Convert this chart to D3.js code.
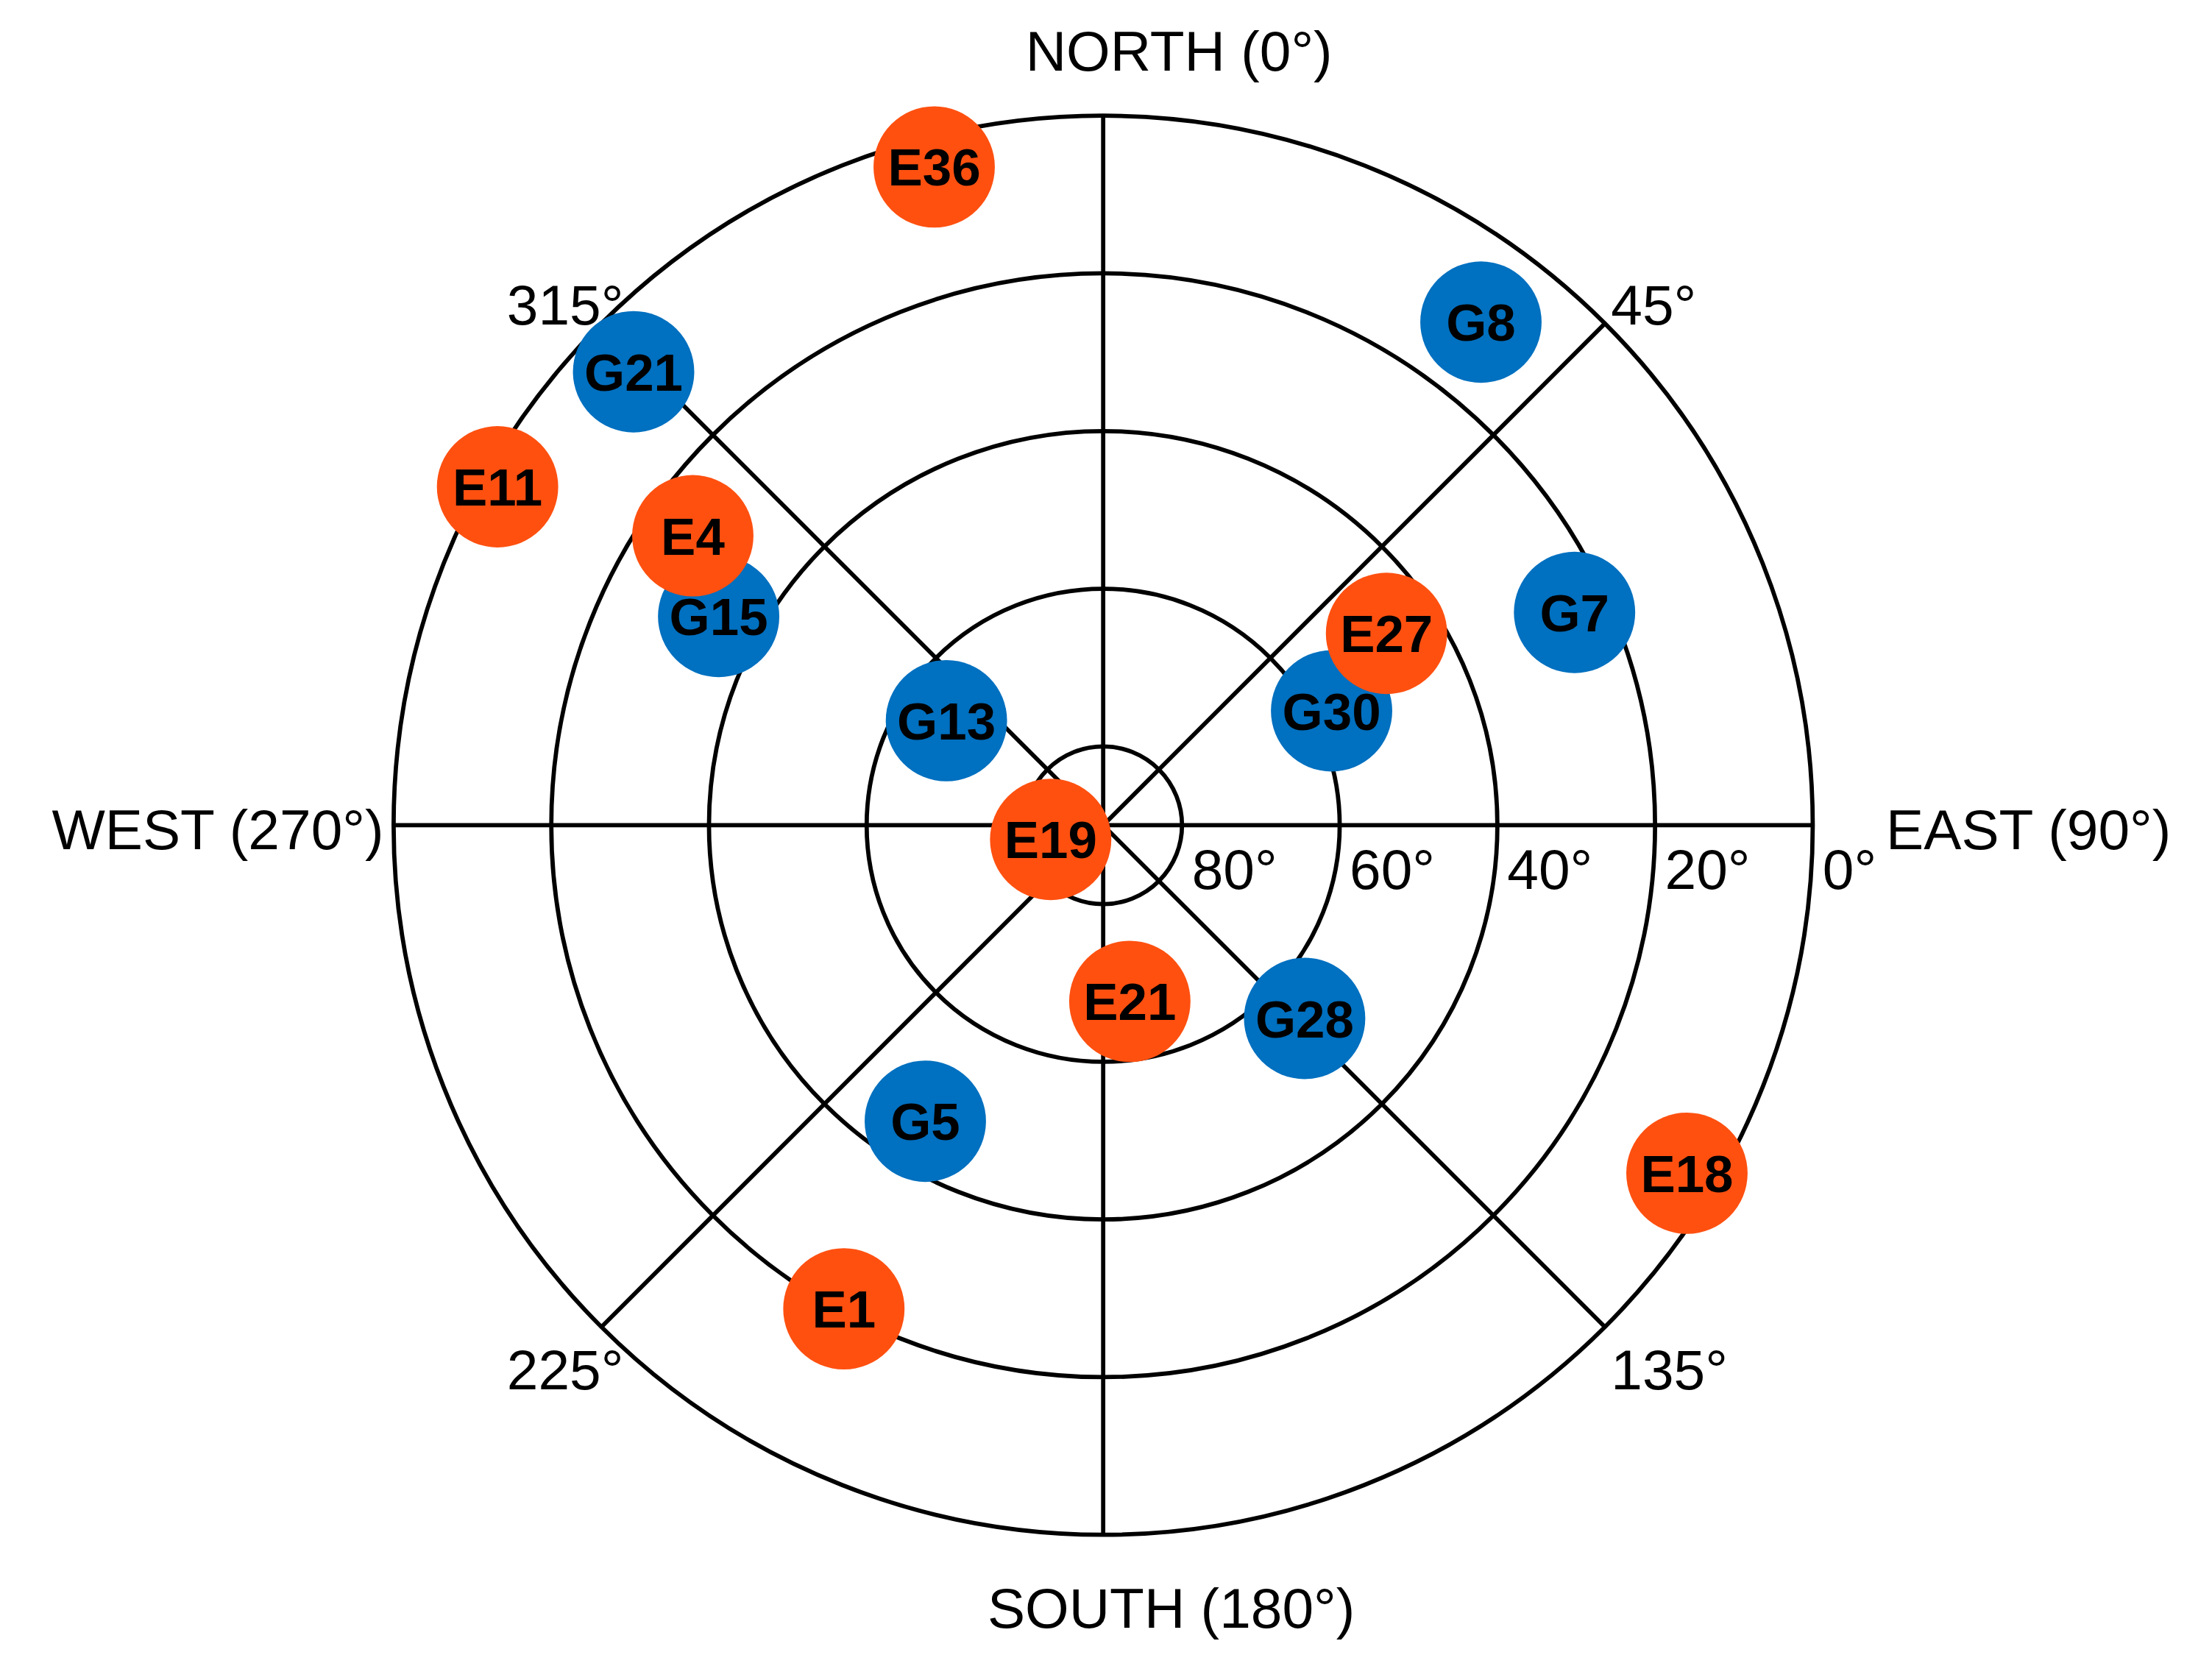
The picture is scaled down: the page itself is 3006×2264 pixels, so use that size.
<!DOCTYPE html>
<html>
<head>
<meta charset="utf-8">
<script src="https://cdn.jsdelivr.net/npm/d3@7"></script>
<style>
  body { margin: 0; background: #fff; }
  text { font-family: Arial, "Liberation Sans", sans-serif; }
</style>
</head>
<body>
<svg id="chart" width="3006" height="2264" viewBox="0 0 1568 1181"></svg>
<script>
// satellite skyplot data: azimuth (deg from north, clockwise), elevation (deg)
const gpsNames = ["G8", "G21", "G15", "G13", "G30", "G7", "G28", "G5"];
const gpsAz    = [36.9, 314, 298.5, 303.7, 63.4, 65.7, 133.8, 211];
const gpsEl    = [10.2, 7.2, 34.5, 66.1, 57.6, 24.4, 54.6, 46.2];

const galNames = ["E36", "E11", "E4", "E19", "E27", "E21", "E1", "E18"];
const galAz    = [345.6, 299.2, 305.2, 254.9, 55.9, 171.4, 208.2, 120.8];
const galEl    = [3.8, 2, 26.3, 83.1, 46.6, 67.4, 20.4, 3.8];

const ringEls = [80, 60, 40, 20, 0];
const spokeAz = [0, 45, 90, 135];

const cx = 782, cy = 585, R = 503;
const svg = d3.select("#chart");

const r = d3.scaleLinear().domain([90, 0]).range([0, R]);
const toXY = (az, el) => {
  const a = az * Math.PI / 180;
  return [cx + r(el) * Math.sin(a), cy - r(el) * Math.cos(a)];
};

const grid = svg.append("g").attr("fill", "none").attr("stroke", "#000").attr("stroke-width", 3);
grid.selectAll("circle").data(ringEls).enter().append("circle")
  .attr("cx", cx).attr("cy", cy).attr("r", d => r(d));
grid.selectAll("line").data(spokeAz).enter().append("line")
  .attr("x1", d => toXY(d, 0)[0]).attr("y1", d => toXY(d, 0)[1])
  .attr("x2", d => toXY(d + 180, 0)[0]).attr("y2", d => toXY(d + 180, 0)[1]);

// ring labels
svg.selectAll(".rl").data(ringEls).enter().append("text")
  .attr("x", d => cx + r(d) + 7).attr("y", cy + 45)
  .attr("font-size", 40).text(d => d + "°");

// direction labels
const lab = (x, y, t, anchor) => svg.append("text").attr("x", x).attr("y", y)
  .attr("font-size", 40).attr("text-anchor", anchor).text(t);
lab(cx - 55, 50, "NORTH (0°)", "start");
lab(cx - 82, 1154, "SOUTH (180°)", "start");
lab(272, 602, "WEST (270°)", "end");
lab(1337, 602, "EAST (90°)", "start");
lab(442, 230, "315°", "end");
lab(1142, 230, "45°", "start");
lab(442, 985, "225°", "end");
lab(1142, 985, "135°", "start");

function drawSats(names, az, el, color) {
  const g = svg.append("g").selectAll("g").data(names).enter().append("g")
    .attr("transform", (d, i) => "translate(" + toXY(az[i], el[i]) + ")");
  g.append("circle").attr("r", 43).attr("fill", color);
  g.append("text").attr("text-anchor", "middle").attr("dy", "0.36em")
    .attr("font-size", 37).attr("font-weight", "bold").text(d => d);
}
drawSats(gpsNames, gpsAz, gpsEl, "#0070C0");
drawSats(galNames, galAz, galEl, "#FF5010");
</script>
</body>
</html>
